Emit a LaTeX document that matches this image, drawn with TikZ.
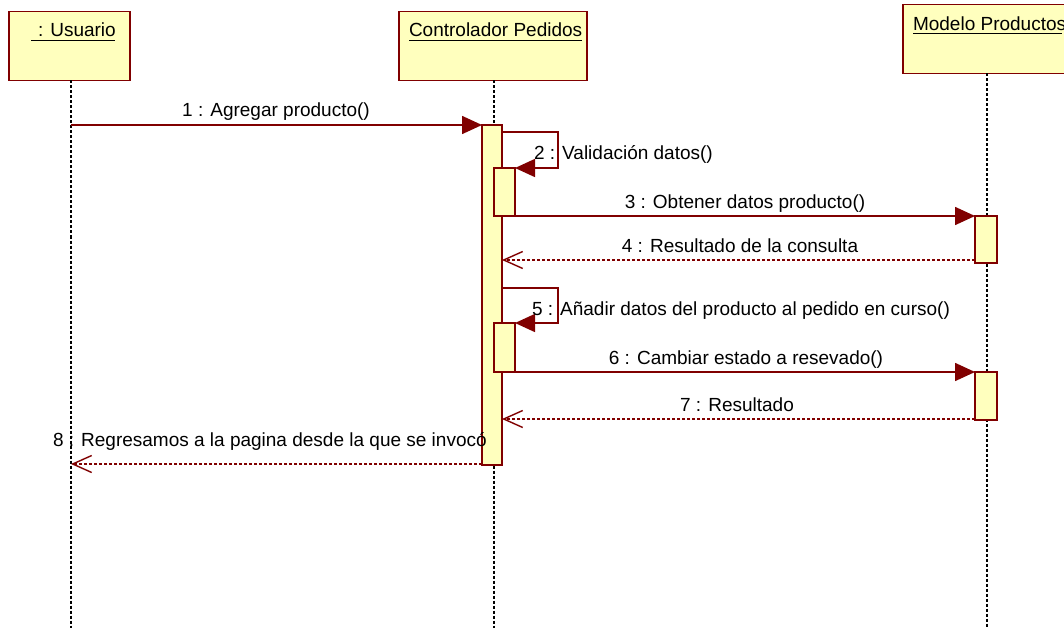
\documentclass[tikz,border=0pt]{standalone}
\usepackage{fontspec}
\setmainfont{Liberation Sans}
\usetikzlibrary{arrows.meta}
\definecolor{umlred}{RGB}{128,0,0}
\definecolor{umlfill}{RGB}{255,255,190}
\begin{document}
\begin{tikzpicture}[x=1pt,y=-1pt,
  lbl/.style={font=\fontsize{19}{22}\selectfont, inner sep=0pt, outer sep=0pt, text=black},
  objbox/.style={draw=umlred, fill=umlfill, line width=1.6pt, rectangle, inner sep=0pt, outer sep=0pt, anchor=north west},
  actbar/.style={draw=umlred, fill=umlfill, line width=1.6pt, rectangle, inner sep=0pt, outer sep=0pt, anchor=north west},
  life/.style={black, line width=1.3pt, dash pattern=on 3pt off 2pt},
  uline/.style={black, line width=1.2pt},
  msg/.style={umlred, line width=1.6pt, -{Triangle[length=20pt,width=18pt]}},
  ret/.style={umlred, line width=1.5pt, dash pattern=on 3pt off 2pt, -{Straight Barb[length=19pt,width=17pt,line width=1.4pt]}},
]
\clip (0,0) rectangle (1064,628);
\fill[white] (0,0) rectangle (1064,628);

% object boxes
\node[objbox, minimum width=121pt, minimum height=69pt] (usr) at (9,11.5) {};
\node[objbox, minimum width=188pt, minimum height=69pt] (ctl) at (399,11.5) {};
\node[objbox, minimum width=170pt, minimum height=69pt] (mod) at (903,4.5) {};

% box titles
\node[lbl, anchor=base west] (tusr) at (38,37) {: Usuario};
\node[lbl, anchor=base west] (tctl) at (409,37) {Controlador Pedidos};
\node[lbl, anchor=base west] (tmod) at (913,31) {Modelo Productos};
\coordinate (uusrA) at (31,40.5); \coordinate (uusrB) at (115,40.5);
\coordinate (uctlA) at (409,40.5); \coordinate (uctlB) at (582,40.5);
\coordinate (umodA) at (913,33.5); \coordinate (umodB) at (1062,33.5);
\draw[uline] (uusrA) -- (uusrB);
\draw[uline] (uctlA) -- (uctlB);
\draw[uline] (umodA) -- (umodB);

% lifelines
\coordinate (usrEnd) at (71,628);
\coordinate (ctlEnd) at (494,628);
\coordinate (modEnd) at (987,628);
\draw[life] (usr.south -| usrEnd) -- (usrEnd);
\draw[life] (ctl.south -| ctlEnd) -- (ctlEnd);
\draw[life] (mod.south -| modEnd) -- (modEnd);

% activation bars
\node[actbar, minimum width=20pt, minimum height=340pt] (a1) at (482,125) {};
\node[actbar, minimum width=21pt, minimum height=48pt] (a2) at (494,168) {};
\node[actbar, minimum width=21pt, minimum height=49pt] (a3) at (494,323) {};
\node[actbar, minimum width=22pt, minimum height=47pt] (b1) at (975,216) {};
\node[actbar, minimum width=22pt, minimum height=48pt] (b2) at (975,372) {};

% message coordinates
\coordinate (m1s) at (71,125);
\coordinate (m2s) at (502,132); \coordinate (m2c) at (558,168);
\coordinate (m4s) at (975,260); \coordinate (m4e) at (502,260);
\coordinate (m5s) at (502,288); \coordinate (m5c) at (558,323);
\coordinate (m7s) at (975,419); \coordinate (m7e) at (502,419);
\coordinate (m8s) at (482,464); \coordinate (m8e) at (71,464);

% messages
\draw[msg] (m1s) -- (a1.north west);
\draw[msg] (m2s) -| (m2c) -- (a2.north east);
\draw[msg] (a2.south east) -- (b1.north west);
\draw[ret] (m4s) -- (m4e);
\draw[msg] (m5s) -| (m5c) -- (a3.north east);
\draw[msg] (a3.south east) -- (b2.north west);
\draw[ret] (m7s) -- (m7e);
\draw[ret] (m8s) -- (m8e);

% labels
\node[lbl, anchor=base] (l1) at (276,117) {1 : Agregar producto()};
\node[lbl, anchor=base west] (l2) at (534,160) {2 : Validación datos()};
\node[lbl, anchor=base] (l3) at (745,208) {3 : Obtener datos producto()};
\node[lbl, anchor=base] (l4) at (740,252.5) {4 : Resultado de la consulta};
\node[lbl, anchor=base west] (l5) at (532,315) {5 : Añadir datos del producto al pedido en curso()};
\node[lbl, anchor=base] (l6) at (746,364) {6 : Cambiar estado a resevado()};
\node[lbl, anchor=base] (l7) at (737,411.5) {7 : Resultado};
\node[lbl, anchor=base west] (l8) at (53,446) {8 : Regresamos a la pagina desde la que se invocó};
\end{tikzpicture}
\end{document}
